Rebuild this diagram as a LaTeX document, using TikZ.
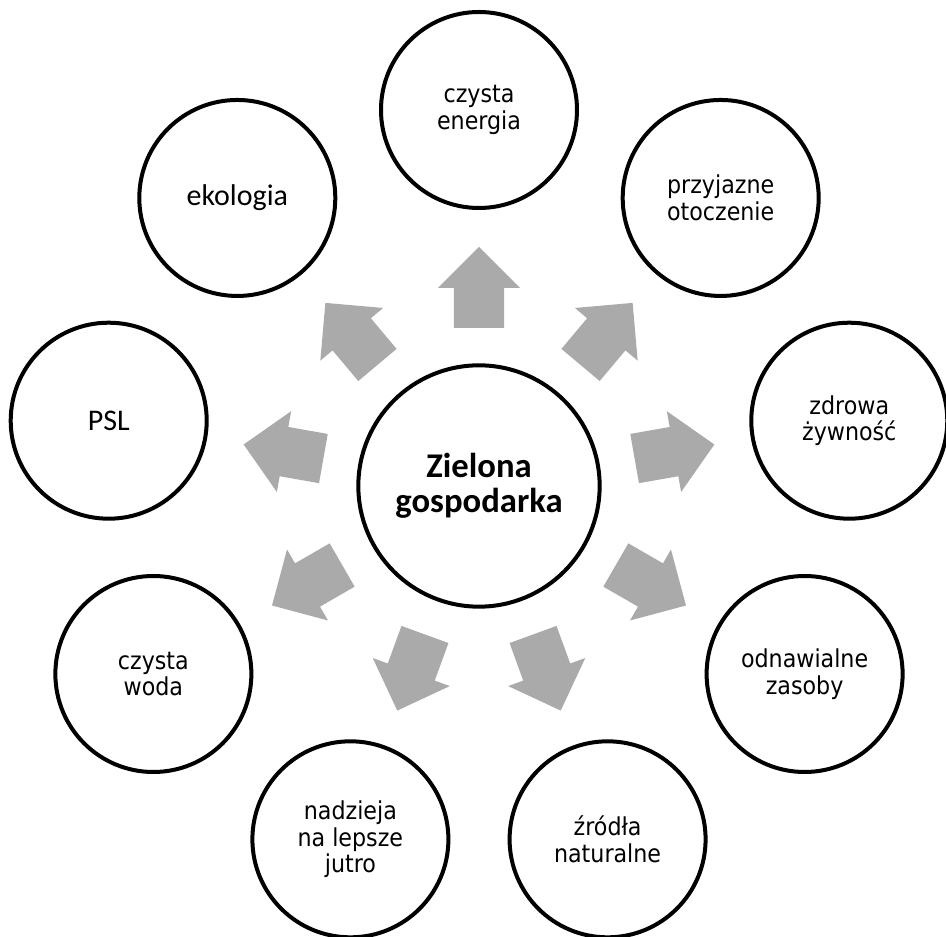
\documentclass[tikz,border=0pt]{standalone}
\usepackage{fontspec}
\setmainfont{DejaVu Sans Condensed}
\newfontfamily\calfont{Carlito}
\usetikzlibrary{positioning}
\definecolor{arrowgray}{RGB}{170,170,170}
\tikzset{state/.style={draw,circle}}
\tikzstyle{st}=[state, line width=3pt, inner sep=0pt, minimum size=147pt, align=center, font=\fontsize{18.5}{20}\selectfont]
\tikzstyle{stcal}=[st, font=\calfont\fontsize{22.5}{27}\selectfont]
\tikzstyle{blk}=[fill=arrowgray]
\begin{document}
\begin{tikzpicture}[x=0.75pt, y=0.75pt]
\useasboundingbox (-479,-451) rectangle (467,486);
\node[st, minimum size=181pt, font=\calfont\bfseries\fontsize{26}{26.5}\selectfont] (hub) at (0,0) {Zielona\\gospodarka};
\node[st] (energia) at (90:376) {czysta\\energia};
\node[st] (otoczenie) at (50:376) {przyjazne\\otoczenie};
\node[st] (zywnosc) at (10:376) {zdrowa\\żywność};
\node[st] (zasoby) at (-30:376) {odnawialne\\zasoby};
\node[st] (zrodla) at (-70:376) {źródła\\naturalne};
\node[st] (jutro) at (-110:376) {nadzieja\\na lepsze\\jutro};
\node[st] (woda) at (-150:376) {czysta\\woda};
\node[stcal] (psl) at (170:376) {PSL};
\node[stcal] (ekologia) at (130:376) {ekologia};
% block arrows
\foreach \a in {90,50,...,-230}
  \fill[blk, rotate=\a] (158,-25) -- (198,-25) -- (198,-41) -- (239,0)
    -- (198,41) -- (198,25) -- (158,25) -- cycle;
\end{tikzpicture}
\end{document}
